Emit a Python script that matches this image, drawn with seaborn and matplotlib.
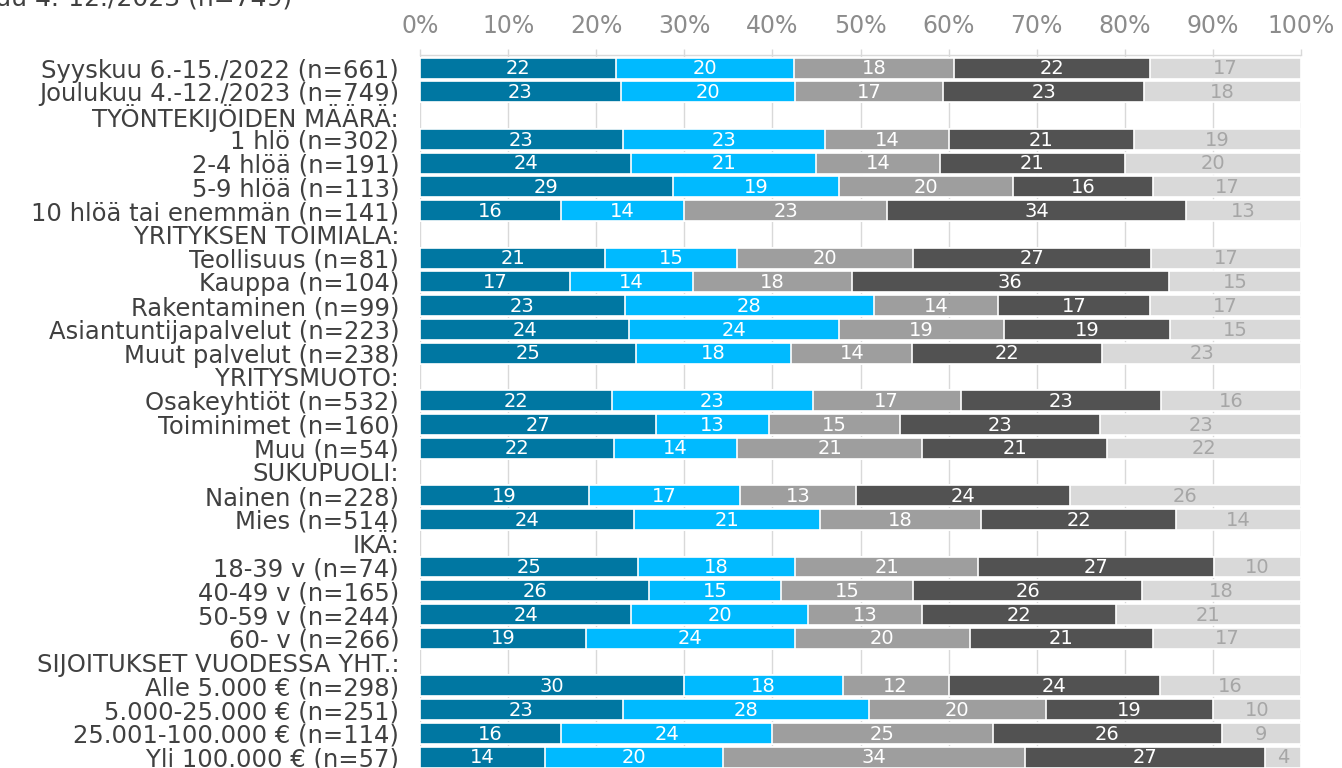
import numpy as np
import pandas as pd
import matplotlib
matplotlib.use("Agg")
import matplotlib.pyplot as plt
import seaborn as sns

# Row labels (group headers have no values)
labels = [
    "Syyskuu 6.-15./2022 (n=661)",
    "Joulukuu 4.-12./2023 (n=749)",
    "TYÖNTEKIJÖIDEN MÄÄRÄ:",
    "1 hlö (n=302)",
    "2-4 hlöä (n=191)",
    "5-9 hlöä (n=113)",
    "10 hlöä tai enemmän (n=141)",
    "YRITYKSEN TOIMIALA:",
    "Teollisuus (n=81)",
    "Kauppa (n=104)",
    "Rakentaminen (n=99)",
    "Asiantuntijapalvelut (n=223)",
    "Muut palvelut (n=238)",
    "YRITYSMUOTO:",
    "Osakeyhtiöt (n=532)",
    "Toiminimet (n=160)",
    "Muu (n=54)",
    "SUKUPUOLI:",
    "Nainen (n=228)",
    "Mies (n=514)",
    "IKÄ:",
    "18-39 v (n=74)",
    "40-49 v (n=165)",
    "50-59 v (n=244)",
    "60- v (n=266)",
    "SIJOITUKSET VUODESSA YHT.:",
    "Alle 5.000 € (n=298)",
    "5.000-25.000 € (n=251)",
    "25.001-100.000 € (n=114)",
    "Yli 100.000 € (n=57)",
]

nan = np.nan
s1 = [22, 23, nan, 23, 24, 29, 16, nan, 21, 17, 23, 24, 25, nan, 22, 27, 22, nan, 19, 24, nan, 25, 26, 24, 19, nan, 30, 23, 16, 14]
s2 = [20, 20, nan, 23, 21, 19, 14, nan, 15, 14, 28, 24, 18, nan, 23, 13, 14, nan, 17, 21, nan, 18, 15, 20, 24, nan, 18, 28, 24, 20]
s3 = [18, 17, nan, 14, 14, 20, 23, nan, 20, 18, 14, 19, 14, nan, 17, 15, 21, nan, 13, 18, nan, 21, 15, 13, 20, nan, 12, 20, 25, 34]
s4 = [22, 23, nan, 21, 21, 16, 34, nan, 27, 36, 17, 19, 22, nan, 23, 23, 21, nan, 24, 22, nan, 27, 26, 22, 21, nan, 24, 19, 26, 27]
s5 = [17, 18, nan, 19, 20, 17, 13, nan, 17, 15, 17, 15, 23, nan, 16, 23, 22, nan, 26, 14, nan, 10, 18, 21, 17, nan, 16, 10, 9, 4]

series = [s1, s2, s3, s4, s5]
colors = ["#0077A2", "#00BAFF", "#9E9E9E", "#525252", "#D9D9D9"]
text_colors = ["white", "white", "white", "white", "#A6A6A6"]

vals = np.array(series, dtype=float).T          # rows x series
totals = np.nansum(vals, axis=1)
totals[totals == 0] = np.nan
shares = vals / totals[:, None] * 100           # 100 % stacked
cum = np.nancumsum(shares, axis=1)
cum[np.isnan(shares)] = np.nan

sns.set_theme(style="white")
plt.rcParams["font.family"] = ["DejaVu Sans"]

fig = plt.figure(figsize=(13.42, 7.68), dpi=100)
W, H = 1342, 768
ax = fig.add_axes([420 / W, 0, (1301 - 420) / W, (768 - 55) / H])

# vertical gridlines behind the bars
for x in range(0, 101, 10):
    ax.axvline(x, color="#D9D9D9", lw=1, zorder=0)

# stacked bars: draw cumulative widths from the widest down
for k in range(4, -1, -1):
    df = pd.DataFrame({"label": labels, "value": cum[:, k]})
    sns.barplot(data=df, x="value", y="label", order=labels, orient="h",
                color=colors[k], saturation=1, width=0.88,
                edgecolor="white", linewidth=1.2, ax=ax, zorder=2)

# value labels in the middle of each segment
for i in range(len(labels)):
    for k in range(5):
        v = vals[i, k]
        if np.isnan(v):
            continue
        left = cum[i, k] - shares[i, k]
        ax.text(left + shares[i, k] / 2, i + 0.03, f"{int(v)}", ha="center", va="center",
                color=text_colors[k], fontsize=14, zorder=5)

ax.set_xlim(0, 100)
ax.set_ylim(29.46, -0.55)
ax.set_xlabel("")
ax.set_ylabel("")
ax.xaxis.tick_top()
ax.set_xticks(range(0, 101, 10))
ax.set_xticklabels([f"{x}%" for x in range(0, 101, 10)])
ax.tick_params(axis="x", which="both", top=True, bottom=False, length=4.5,
               color="#D9D9D9", width=1, labelsize=17, labelcolor="#8C8C8C", pad=8)
ax.tick_params(axis="y", left=False, length=0, labelsize=17.5, labelcolor="#404040", pad=15)
for side in ["right", "bottom", "left"]:
    ax.spines[side].set_visible(False)
ax.spines["top"].set_color("#D9D9D9")
ax.spines["top"].set_linewidth(1)

fig.text(292 / W, 1 - 6 / H, "Joulukuu 4.-12./2023 (n=749)", ha="right", va="baseline",
         fontsize=18, color="#404040")

fig.savefig("out.png", dpi=100)
